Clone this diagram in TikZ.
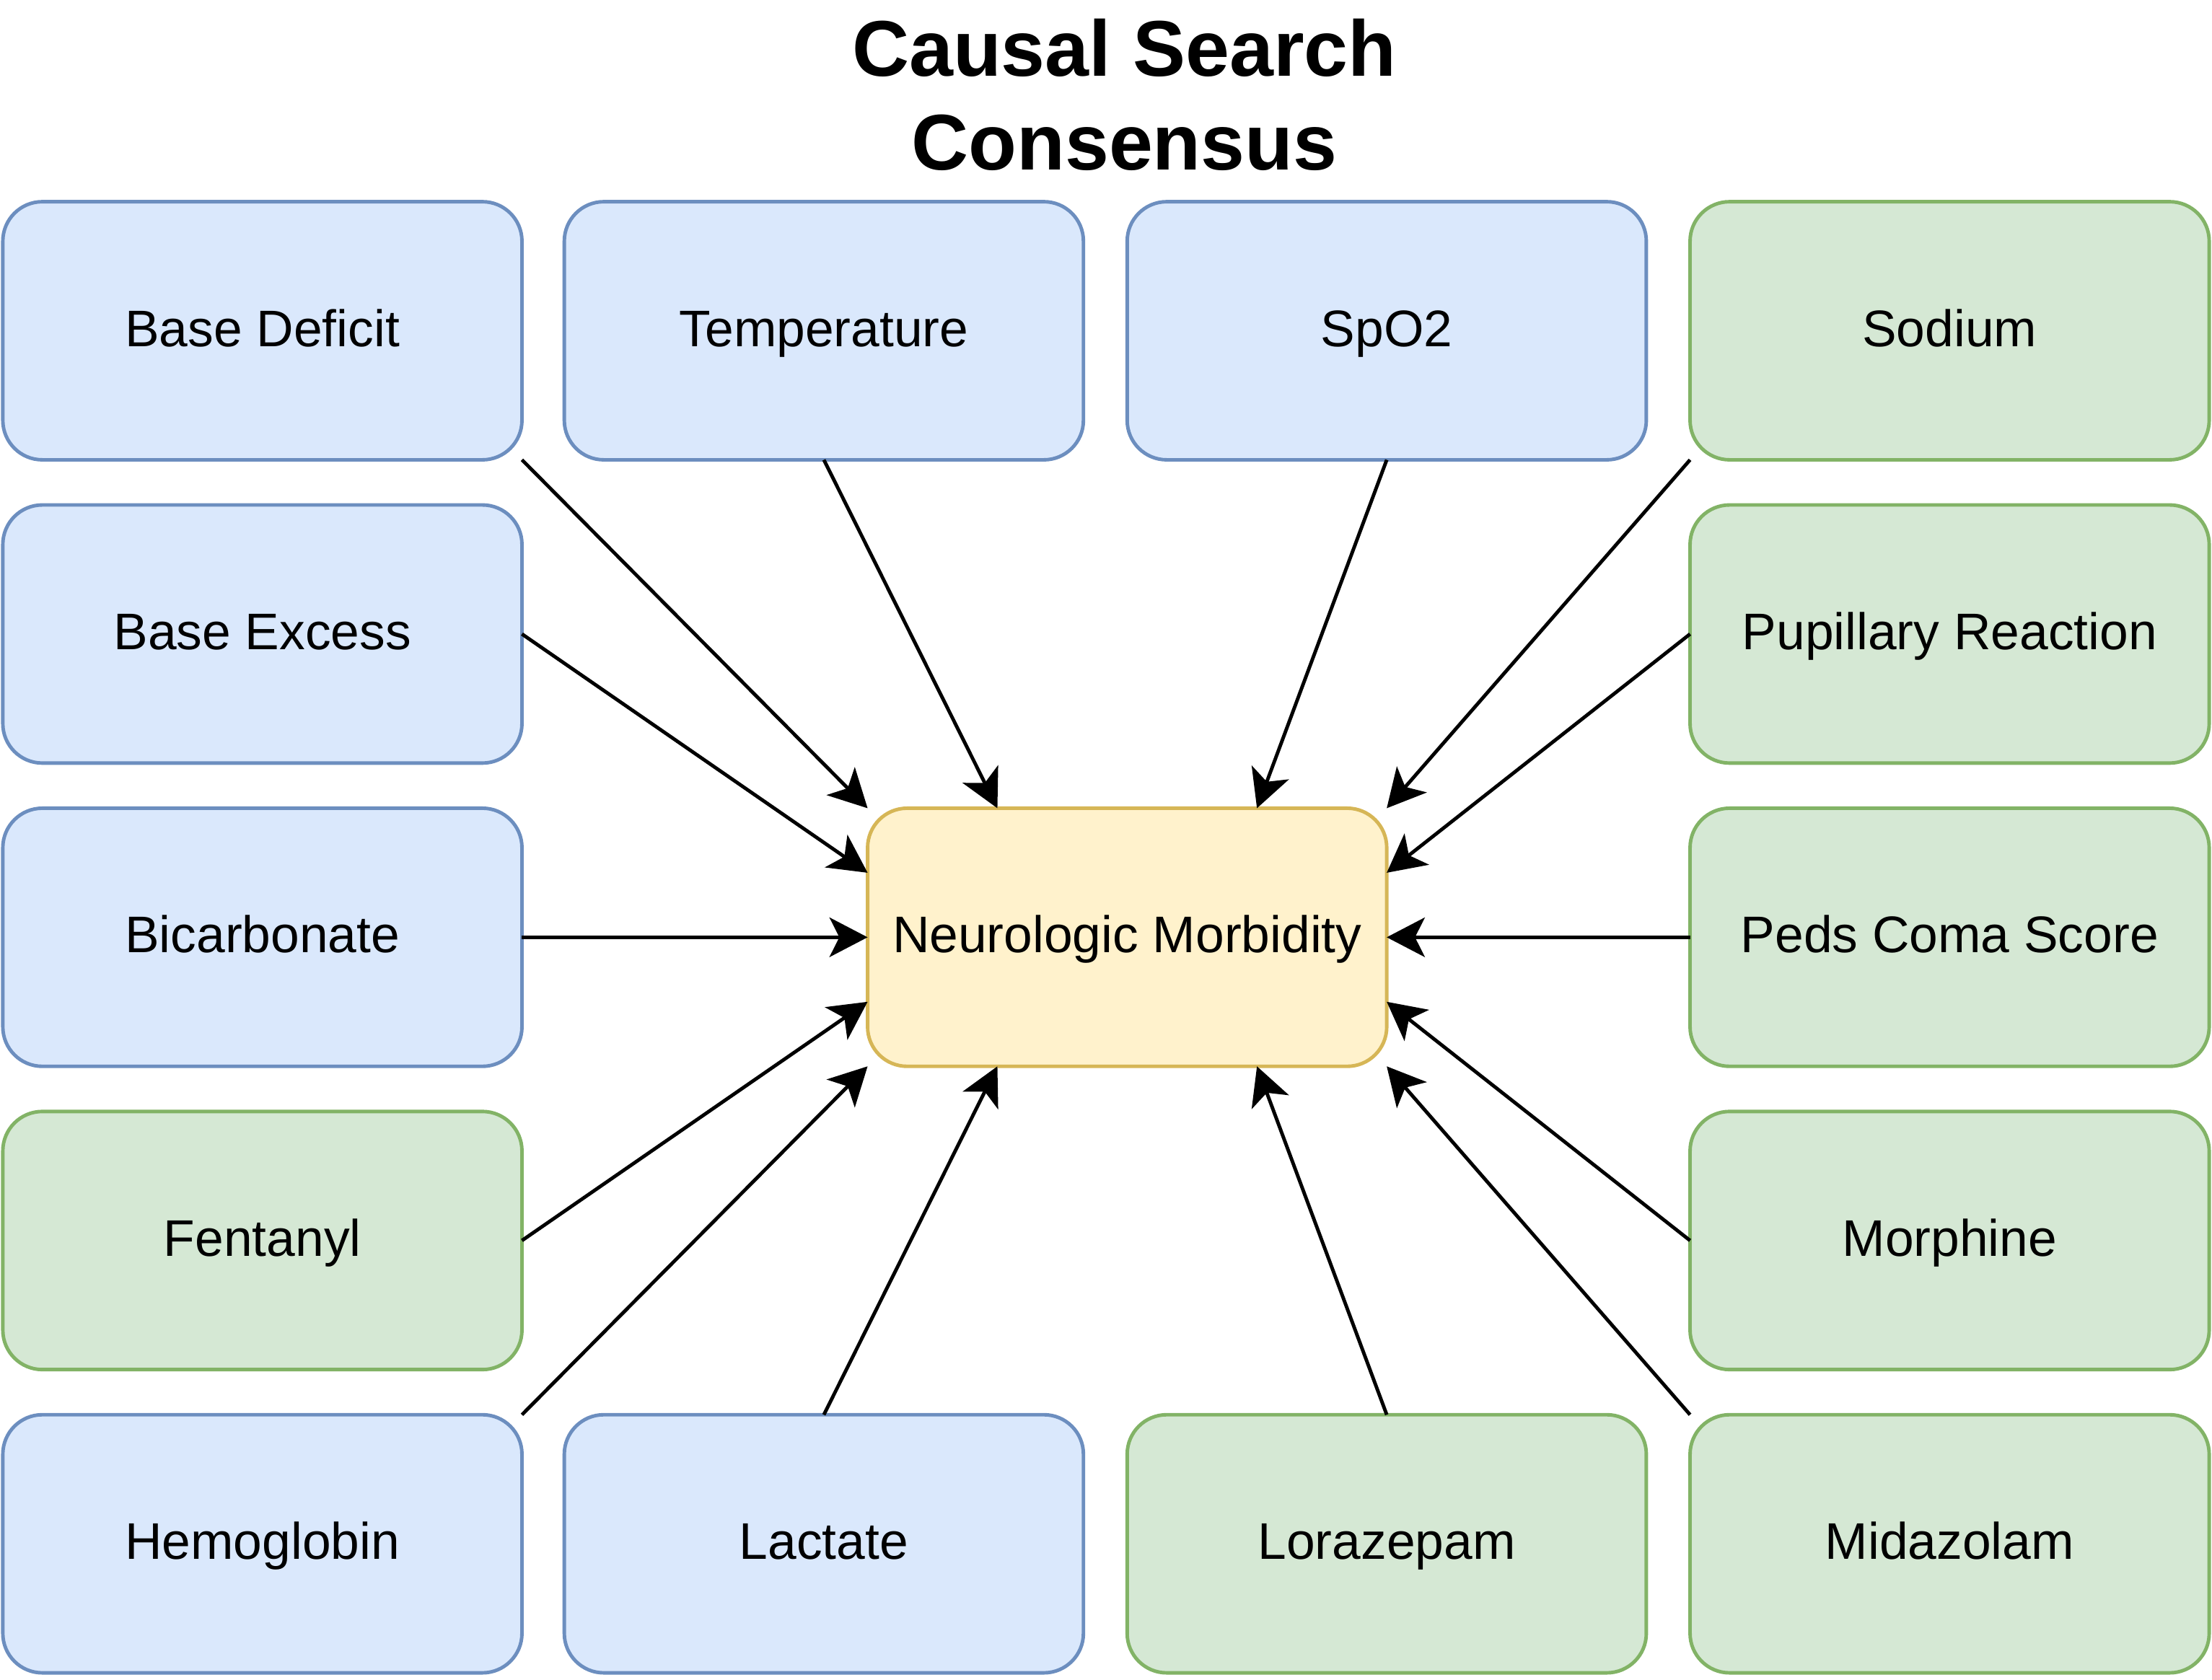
\documentclass[tikz,border=0pt]{standalone}
\usepackage{fontspec}
\setmainfont{Liberation Sans}
\usetikzlibrary{arrows.meta,calc}
\definecolor{bluefill}{HTML}{DAE8FC}
\definecolor{blueline}{HTML}{6C8EBF}
\definecolor{greenfill}{HTML}{D5E8D4}
\definecolor{greenline}{HTML}{82B366}
\definecolor{yelfill}{HTML}{FFF2CC}
\definecolor{yelline}{HTML}{D6B656}
\begin{document}
\begin{tikzpicture}[x=1pt,y=-1pt,
 box/.style={rectangle, rounded corners=28pt, minimum width=368pt, minimum height=183pt, inner sep=0pt, outer sep=0pt, line width=2.5pt, font=\fontsize{36.5}{44}\selectfont, text height=30pt, text depth=8pt},
 bluebox/.style={box, draw=blueline, fill=bluefill},
 greenbox/.style={box, draw=greenline, fill=greenfill},
 yellowbox/.style={box, draw=yelline, fill=yelfill},
 edge/.style={line width=2.5pt, -{Stealth[length=27pt,width=28pt,inset=7pt]}},
 titlestyle/.style={align=center, inner sep=0pt, font=\fontsize{56}{66.5}\selectfont\bfseries},
]
\useasboundingbox (0,0) rectangle (1568,1191);
\node[titlestyle] (title) at (797,67) {Causal Search\\Consensus};
% column 1
\node[bluebox] (bd) at (186,234.5) {Base Deficit};
\node[bluebox] (be) at (186,449.5) {Base Excess};
\node[bluebox] (bic) at (186,664.5) {Bicarbonate};
\node[greenbox] (fen) at (186,879.5) {Fentanyl};
\node[bluebox] (hem) at (186,1094.5) {Hemoglobin};
% column 2
\node[bluebox] (temp) at (584,234.5) {Temperature};
\node[bluebox] (lac) at (584,1094.5) {Lactate};
% column 3
\node[bluebox] (spo) at (983,234.5) {SpO2};
\node[greenbox] (lor) at (983,1094.5) {Lorazepam};
% column 4
\node[greenbox] (sod) at (1382,234.5) {Sodium};
\node[greenbox] (pup) at (1382,449.5) {Pupillary Reaction};
\node[greenbox] (pcs) at (1382,664.5) {Peds Coma Score};
\node[greenbox] (mor) at (1382,879.5) {Morphine};
\node[greenbox] (mid) at (1382,1094.5) {Midazolam};
% centre
\node[yellowbox] (nm) at (799,664.5) {Neurologic Morbidity};
% edges
\draw[edge] (bd.south east) -- (nm.north west);
\draw[edge] (temp.south) -- ($(nm.north west)!0.25!(nm.north east)$);
\draw[edge] (spo.south) -- ($(nm.north west)!0.75!(nm.north east)$);
\draw[edge] (sod.south west) -- (nm.north east);
\draw[edge] (be.east) -- ($(nm.north west)!0.25!(nm.south west)$);
\draw[edge] (pup.west) -- ($(nm.north east)!0.25!(nm.south east)$);
\draw[edge] (bic.east) -- (nm.west);
\draw[edge] (pcs.west) -- (nm.east);
\draw[edge] (fen.east) -- ($(nm.north west)!0.75!(nm.south west)$);
\draw[edge] (mor.west) -- ($(nm.north east)!0.75!(nm.south east)$);
\draw[edge] (hem.north east) -- (nm.south west);
\draw[edge] (lac.north) -- ($(nm.south west)!0.25!(nm.south east)$);
\draw[edge] (lor.north) -- ($(nm.south west)!0.75!(nm.south east)$);
\draw[edge] (mid.north west) -- (nm.south east);
\end{tikzpicture}
\end{document}
